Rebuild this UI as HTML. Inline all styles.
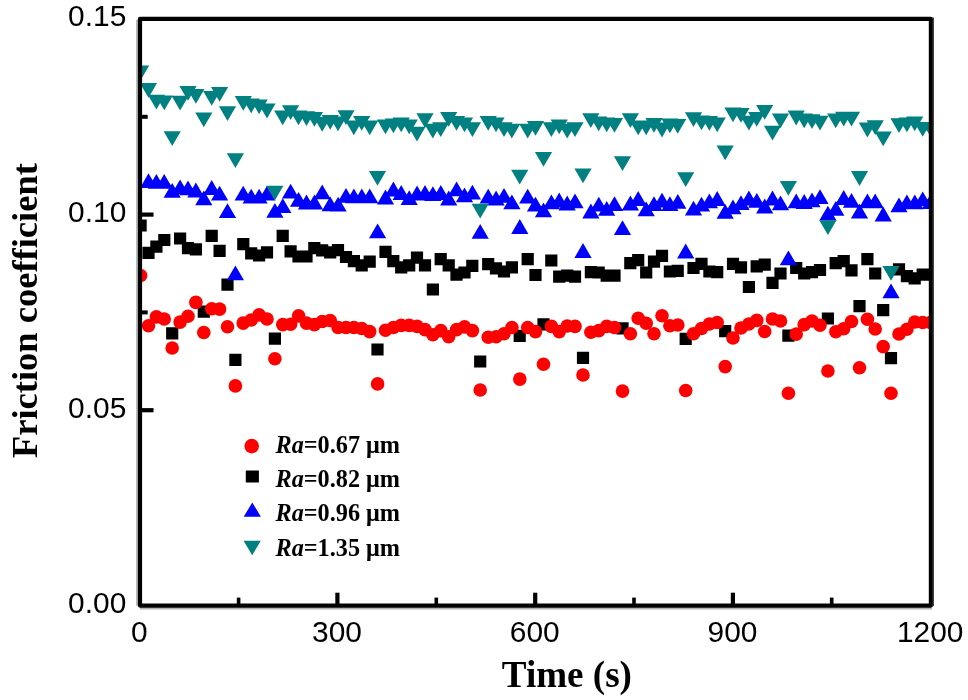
<!DOCTYPE html>
<html><head><meta charset="utf-8"><title>Friction coefficient vs time</title>
<style>
html,body{margin:0;padding:0;background:#fff;}
body{width:968px;height:700px;overflow:hidden;}
svg{display:block;filter:blur(0.45px);}
text{font-family:"Liberation Sans",sans-serif;fill:#000;}
.ser{font-family:"Liberation Serif",serif;font-weight:bold;font-variant-ligatures:none;}
</style></head>
<body>
<svg width="968" height="700" viewBox="0 0 968 700">
<rect width="968" height="700" fill="#fff"/>
<defs><clipPath id="c"><rect x="140" y="18.8" width="790.9" height="586.8"/></clipPath></defs>
<g clip-path="url(#c)">
<path fill="#000" d="M134.5 219.4h12.2v12.2h-12.2zM142.4 246.7h12.2v12.2h-12.2zM150.3 240.5h12.2v12.2h-12.2zM158.2 233.9h12.2v12.2h-12.2zM166.1 327.3h12.2v12.2h-12.2zM174 232.4h12.2v12.2h-12.2zM181.9 242.1h12.2v12.2h-12.2zM189.8 243.2h12.2v12.2h-12.2zM197.7 305.5h12.2v12.2h-12.2zM205.6 229.7h12.2v12.2h-12.2zM213.5 244.8h12.2v12.2h-12.2zM221.4 278.5h12.2v12.2h-12.2zM229.3 353.8h12.2v12.2h-12.2zM237.2 238h12.2v12.2h-12.2zM245.1 247.3h12.2v12.2h-12.2zM253 249.4h12.2v12.2h-12.2zM260.9 246.3h12.2v12.2h-12.2zM268.8 332.5h12.2v12.2h-12.2zM276.6 229.7h12.2v12.2h-12.2zM284.5 245.2h12.2v12.2h-12.2zM292.4 250.4h12.2v12.2h-12.2zM300.4 250.4h12.2v12.2h-12.2zM308.2 242.1h12.2v12.2h-12.2zM316.1 244.2h12.2v12.2h-12.2zM324.1 246.3h12.2v12.2h-12.2zM331.9 244h12.2v12.2h-12.2zM339.9 250.9h12.2v12.2h-12.2zM347.8 255h12.2v12.2h-12.2zM355.6 259.2h12.2v12.2h-12.2zM363.6 255.6h12.2v12.2h-12.2zM371.4 343.4h12.2v12.2h-12.2zM379.4 245.7h12.2v12.2h-12.2zM387.2 255h12.2v12.2h-12.2zM395.1 261.2h12.2v12.2h-12.2zM403.1 259.2h12.2v12.2h-12.2zM410.9 251.5h12.2v12.2h-12.2zM418.9 259.2h12.2v12.2h-12.2zM426.8 283.4h12.2v12.2h-12.2zM434.6 253h12.2v12.2h-12.2zM442.6 259.2h12.2v12.2h-12.2zM450.4 268.5h12.2v12.2h-12.2zM458.4 266.4h12.2v12.2h-12.2zM466.2 259.8h12.2v12.2h-12.2zM474.1 355.4h12.2v12.2h-12.2zM482.1 258.1h12.2v12.2h-12.2zM489.9 262.3h12.2v12.2h-12.2zM497.9 265.4h12.2v12.2h-12.2zM505.8 261.2h12.2v12.2h-12.2zM513.6 329.8h12.2v12.2h-12.2zM521.6 253h12.2v12.2h-12.2zM529.4 268.9h12.2v12.2h-12.2zM537.4 318.2h12.2v12.2h-12.2zM545.2 254.4h12.2v12.2h-12.2zM553.1 270.5h12.2v12.2h-12.2zM561.1 269.5h12.2v12.2h-12.2zM568.9 270.5h12.2v12.2h-12.2zM576.9 351.7h12.2v12.2h-12.2zM584.8 266h12.2v12.2h-12.2zM592.6 266.4h12.2v12.2h-12.2zM600.6 269.5h12.2v12.2h-12.2zM608.4 269.5h12.2v12.2h-12.2zM616.4 322.3h12.2v12.2h-12.2zM624.2 257.1h12.2v12.2h-12.2zM632.1 254h12.2v12.2h-12.2zM640.1 266.4h12.2v12.2h-12.2zM647.9 255.6h12.2v12.2h-12.2zM655.9 249.8h12.2v12.2h-12.2zM663.8 265.4h12.2v12.2h-12.2zM671.6 264.8h12.2v12.2h-12.2zM679.6 332.7h12.2v12.2h-12.2zM687.4 261.9h12.2v12.2h-12.2zM695.4 257.7h12.2v12.2h-12.2zM703.3 265.4h12.2v12.2h-12.2zM711.1 266h12.2v12.2h-12.2zM719.1 325h12.2v12.2h-12.2zM726.9 257.7h12.2v12.2h-12.2zM734.9 261.2h12.2v12.2h-12.2zM742.8 280.9h12.2v12.2h-12.2zM750.6 260.2h12.2v12.2h-12.2zM758.6 258.5h12.2v12.2h-12.2zM766.4 276.8h12.2v12.2h-12.2zM774.4 267.4h12.2v12.2h-12.2zM782.3 329.6h12.2v12.2h-12.2zM790.1 261.9h12.2v12.2h-12.2zM798.1 267.4h12.2v12.2h-12.2zM805.9 266h12.2v12.2h-12.2zM813.9 263.9h12.2v12.2h-12.2zM821.8 312.4h12.2v12.2h-12.2zM829.6 257.1h12.2v12.2h-12.2zM837.6 255h12.2v12.2h-12.2zM845.4 264.3h12.2v12.2h-12.2zM853.4 300h12.2v12.2h-12.2zM861.3 253h12.2v12.2h-12.2zM869.1 267.4h12.2v12.2h-12.2zM877.1 304.1h12.2v12.2h-12.2zM884.9 352h12.2v12.2h-12.2zM892.9 263.3h12.2v12.2h-12.2zM900.8 270.1h12.2v12.2h-12.2zM908.6 272.2h12.2v12.2h-12.2zM916.6 268.5h12.2v12.2h-12.2zM924.4 268.5h12.2v12.2h-12.2z"/>
<g fill="#f00"><circle cx="140.6" cy="275.5" r="6.8"/><circle cx="148.5" cy="325.8" r="6.8"/><circle cx="156.4" cy="316.9" r="6.8"/><circle cx="164.2" cy="319" r="6.8"/><circle cx="172.2" cy="348" r="6.8"/><circle cx="180.1" cy="322.1" r="6.8"/><circle cx="188" cy="316.3" r="6.8"/><circle cx="195.9" cy="302.4" r="6.8"/><circle cx="203.8" cy="332.5" r="6.8"/><circle cx="211.7" cy="308.7" r="6.8"/><circle cx="219.6" cy="309.1" r="6.8"/><circle cx="227.5" cy="326.7" r="6.8"/><circle cx="235.4" cy="385.9" r="6.8"/><circle cx="243.2" cy="323.1" r="6.8"/><circle cx="251.2" cy="320" r="6.8"/><circle cx="259.1" cy="314.9" r="6.8"/><circle cx="267" cy="319" r="6.8"/><circle cx="274.9" cy="358.8" r="6.8"/><circle cx="282.8" cy="324.6" r="6.8"/><circle cx="290.6" cy="324.2" r="6.8"/><circle cx="298.6" cy="315.9" r="6.8"/><circle cx="306.5" cy="323.1" r="6.8"/><circle cx="314.4" cy="324.6" r="6.8"/><circle cx="322.2" cy="321.5" r="6.8"/><circle cx="330.2" cy="320.5" r="6.8"/><circle cx="338.1" cy="327.5" r="6.8"/><circle cx="346" cy="327.5" r="6.8"/><circle cx="353.9" cy="327.5" r="6.8"/><circle cx="361.8" cy="328.5" r="6.8"/><circle cx="369.7" cy="331.6" r="6.8"/><circle cx="377.6" cy="383.9" r="6.8"/><circle cx="385.5" cy="330.2" r="6.8"/><circle cx="393.4" cy="327.5" r="6.8"/><circle cx="401.2" cy="325.4" r="6.8"/><circle cx="409.2" cy="325.4" r="6.8"/><circle cx="417.1" cy="326.4" r="6.8"/><circle cx="425" cy="329.6" r="6.8"/><circle cx="432.9" cy="334.7" r="6.8"/><circle cx="440.8" cy="330.6" r="6.8"/><circle cx="448.7" cy="336.8" r="6.8"/><circle cx="456.6" cy="329.6" r="6.8"/><circle cx="464.5" cy="326.9" r="6.8"/><circle cx="472.4" cy="330.6" r="6.8"/><circle cx="480.2" cy="390" r="6.8"/><circle cx="488.2" cy="337.2" r="6.8"/><circle cx="496.1" cy="336.8" r="6.8"/><circle cx="504" cy="333.7" r="6.8"/><circle cx="511.9" cy="327.5" r="6.8"/><circle cx="519.8" cy="379.1" r="6.8"/><circle cx="527.7" cy="327.5" r="6.8"/><circle cx="535.5" cy="331.6" r="6.8"/><circle cx="543.5" cy="364.2" r="6.8"/><circle cx="551.4" cy="326.4" r="6.8"/><circle cx="559.2" cy="331.6" r="6.8"/><circle cx="567.2" cy="326" r="6.8"/><circle cx="575" cy="326.4" r="6.8"/><circle cx="583" cy="375" r="6.8"/><circle cx="590.9" cy="332.2" r="6.8"/><circle cx="598.8" cy="330.6" r="6.8"/><circle cx="606.7" cy="326.4" r="6.8"/><circle cx="614.5" cy="327.5" r="6.8"/><circle cx="622.5" cy="391.1" r="6.8"/><circle cx="630.4" cy="333.7" r="6.8"/><circle cx="638.2" cy="318.2" r="6.8"/><circle cx="646.2" cy="323.3" r="6.8"/><circle cx="654" cy="333.7" r="6.8"/><circle cx="662" cy="315.7" r="6.8"/><circle cx="669.9" cy="325.8" r="6.8"/><circle cx="677.8" cy="325" r="6.8"/><circle cx="685.7" cy="390.5" r="6.8"/><circle cx="693.5" cy="333.7" r="6.8"/><circle cx="701.5" cy="328.5" r="6.8"/><circle cx="709.4" cy="324" r="6.8"/><circle cx="717.2" cy="322.5" r="6.8"/><circle cx="725.2" cy="366.6" r="6.8"/><circle cx="733" cy="338" r="6.8"/><circle cx="741" cy="328" r="6.8"/><circle cx="748.9" cy="324" r="6.8"/><circle cx="756.8" cy="320.4" r="6.8"/><circle cx="764.7" cy="331.5" r="6.8"/><circle cx="772.5" cy="319" r="6.8"/><circle cx="780.5" cy="321" r="6.8"/><circle cx="788.4" cy="393.2" r="6.8"/><circle cx="796.2" cy="334.1" r="6.8"/><circle cx="804.2" cy="324.6" r="6.8"/><circle cx="812" cy="321" r="6.8"/><circle cx="820" cy="325.2" r="6.8"/><circle cx="827.9" cy="371" r="6.8"/><circle cx="835.8" cy="331.7" r="6.8"/><circle cx="843.7" cy="328.8" r="6.8"/><circle cx="851.5" cy="321.5" r="6.8"/><circle cx="859.5" cy="367.8" r="6.8"/><circle cx="867.4" cy="319.3" r="6.8"/><circle cx="875.2" cy="329" r="6.8"/><circle cx="883.2" cy="346.6" r="6.8"/><circle cx="891" cy="393.2" r="6.8"/><circle cx="899" cy="334" r="6.8"/><circle cx="906.9" cy="329.3" r="6.8"/><circle cx="914.8" cy="322" r="6.8"/><circle cx="922.7" cy="322.5" r="6.8"/><circle cx="930.5" cy="322.5" r="6.8"/></g>
<path fill="#00f" d="M148.5 173.3l8.6 14.8h-17.2zM156.4 173.9l8.6 14.8h-17.2zM164.2 173.9l8.6 14.8h-17.2zM172.2 183l8.6 14.8h-17.2zM180.1 179.5l8.6 14.8h-17.2zM188 180.5l8.6 14.8h-17.2zM195.9 182.6l8.6 14.8h-17.2zM203.8 190.5l8.6 14.8h-17.2zM211.7 180.1l8.6 14.8h-17.2zM219.6 185.7l8.6 14.8h-17.2zM227.5 203.3l8.6 14.8h-17.2zM235.4 265.5l8.6 14.8h-17.2zM243.2 185.7l8.6 14.8h-17.2zM251.2 188.8l8.6 14.8h-17.2zM259.1 188.8l8.6 14.8h-17.2zM267 185.7l8.6 14.8h-17.2zM274.9 202.9l8.6 14.8h-17.2zM282.8 198.2l8.6 14.8h-17.2zM290.6 183.7l8.6 14.8h-17.2zM298.6 191.9l8.6 14.8h-17.2zM306.5 194.6l8.6 14.8h-17.2zM314.4 194.6l8.6 14.8h-17.2zM322.2 184.5l8.6 14.8h-17.2zM330.2 196.5l8.6 14.8h-17.2zM338.1 196.8l8.6 14.8h-17.2zM346 187.9l8.6 14.8h-17.2zM353.9 188.5l8.6 14.8h-17.2zM361.8 188.5l8.6 14.8h-17.2zM369.7 188.5l8.6 14.8h-17.2zM377.6 223.4l8.6 14.8h-17.2zM385.5 189.6l8.6 14.8h-17.2zM393.4 181.6l8.6 14.8h-17.2zM401.2 185.1l8.6 14.8h-17.2zM409.2 190.2l8.6 14.8h-17.2zM417.1 185.6l8.6 14.8h-17.2zM425 185.1l8.6 14.8h-17.2zM432.9 186.2l8.6 14.8h-17.2zM440.8 185.1l8.6 14.8h-17.2zM448.7 190.6l8.6 14.8h-17.2zM456.6 181.4l8.6 14.8h-17.2zM464.5 187.4l8.6 14.8h-17.2zM472.4 184.8l8.6 14.8h-17.2zM480.2 223.9l8.6 14.8h-17.2zM488.2 188.7l8.6 14.8h-17.2zM496.1 190.6l8.6 14.8h-17.2zM504 187.9l8.6 14.8h-17.2zM511.9 194.4l8.6 14.8h-17.2zM519.8 219.1l8.6 14.8h-17.2zM527.7 188.8l8.6 14.8h-17.2zM535.5 196.8l8.6 14.8h-17.2zM543.5 202.5l8.6 14.8h-17.2zM551.4 194.5l8.6 14.8h-17.2zM559.2 192.6l8.6 14.8h-17.2zM567.2 195.6l8.6 14.8h-17.2zM575 193.4l8.6 14.8h-17.2zM583 243.1l8.6 14.8h-17.2zM590.9 203.6l8.6 14.8h-17.2zM598.8 196.8l8.6 14.8h-17.2zM606.7 201l8.6 14.8h-17.2zM614.5 196.2l8.6 14.8h-17.2zM622.5 220.2l8.6 14.8h-17.2zM630.4 195.6l8.6 14.8h-17.2zM638.2 191.1l8.6 14.8h-17.2zM646.2 201.4l8.6 14.8h-17.2zM654 196.2l8.6 14.8h-17.2zM662 192.8l8.6 14.8h-17.2zM669.9 196.2l8.6 14.8h-17.2zM677.8 193.9l8.6 14.8h-17.2zM685.7 243.6l8.6 14.8h-17.2zM693.5 200.8l8.6 14.8h-17.2zM701.5 196.8l8.6 14.8h-17.2zM709.4 193.4l8.6 14.8h-17.2zM717.2 191.1l8.6 14.8h-17.2zM725.2 204l8.6 14.8h-17.2zM733 199.5l8.6 14.8h-17.2zM741 195.2l8.6 14.8h-17.2zM748.9 190.6l8.6 14.8h-17.2zM756.8 192.9l8.6 14.8h-17.2zM764.7 198.6l8.6 14.8h-17.2zM772.5 190.6l8.6 14.8h-17.2zM780.5 195.5l8.6 14.8h-17.2zM788.4 250.4l8.6 14.8h-17.2zM796.2 193.5l8.6 14.8h-17.2zM804.2 194.1l8.6 14.8h-17.2zM812 192.4l8.6 14.8h-17.2zM820 189.2l8.6 14.8h-17.2zM827.9 205.8l8.6 14.8h-17.2zM835.8 200.9l8.6 14.8h-17.2zM843.7 190.1l8.6 14.8h-17.2zM851.5 192.9l8.6 14.8h-17.2zM859.5 203.8l8.6 14.8h-17.2zM867.4 193.5l8.6 14.8h-17.2zM875.2 193.5l8.6 14.8h-17.2zM883.2 206.6l8.6 14.8h-17.2zM891 283.5l8.6 14.8h-17.2zM899 197.5l8.6 14.8h-17.2zM906.9 194.4l8.6 14.8h-17.2zM914.8 194.4l8.6 14.8h-17.2zM922.7 191.4l8.6 14.8h-17.2zM930.5 194.3l8.6 14.8h-17.2z"/>
<path fill="#008080" d="M132 65.4h17.2l-8.6 14.8zM139.9 83h17.2l-8.6 14.8zM147.8 94.7h17.2l-8.6 14.8zM155.7 95.4h17.2l-8.6 14.8zM163.6 131.2h17.2l-8.6 14.8zM171.5 95.8h17.2l-8.6 14.8zM179.4 86h17.2l-8.6 14.8zM187.3 89h17.2l-8.6 14.8zM195.2 112.5h17.2l-8.6 14.8zM203.1 91h17.2l-8.6 14.8zM211 87h17.2l-8.6 14.8zM218.9 106.3h17.2l-8.6 14.8zM226.8 153.3h17.2l-8.6 14.8zM234.7 96h17.2l-8.6 14.8zM242.6 98.5h17.2l-8.6 14.8zM250.5 99.5h17.2l-8.6 14.8zM258.4 103.6h17.2l-8.6 14.8zM266.2 185.8h17.2l-8.6 14.8zM274.1 110.5h17.2l-8.6 14.8zM282 105.3h17.2l-8.6 14.8zM289.9 110.5h17.2l-8.6 14.8zM297.9 111.3h17.2l-8.6 14.8zM305.8 112h17.2l-8.6 14.8zM313.6 117h17.2l-8.6 14.8zM321.6 115h17.2l-8.6 14.8zM329.4 116.4h17.2l-8.6 14.8zM337.4 110.2h17.2l-8.6 14.8zM345.2 120.5h17.2l-8.6 14.8zM353.1 116h17.2l-8.6 14.8zM361.1 120.5h17.2l-8.6 14.8zM368.9 171h17.2l-8.6 14.8zM376.9 119.5h17.2l-8.6 14.8zM384.8 118.5h17.2l-8.6 14.8zM392.6 117.4h17.2l-8.6 14.8zM400.6 119.5h17.2l-8.6 14.8zM408.4 126.8h17.2l-8.6 14.8zM416.4 113.3h17.2l-8.6 14.8zM424.2 123.7h17.2l-8.6 14.8zM432.1 122.2h17.2l-8.6 14.8zM440.1 111.9h17.2l-8.6 14.8zM447.9 116h17.2l-8.6 14.8zM455.9 117.4h17.2l-8.6 14.8zM463.8 122.2h17.2l-8.6 14.8zM471.6 203.8h17.2l-8.6 14.8zM479.6 116h17.2l-8.6 14.8zM487.4 117.4h17.2l-8.6 14.8zM495.4 122.2h17.2l-8.6 14.8zM503.2 123.7h17.2l-8.6 14.8zM511.1 169.8h17.2l-8.6 14.8zM519.1 123.7h17.2l-8.6 14.8zM526.9 121h17.2l-8.6 14.8zM534.9 152h17.2l-8.6 14.8zM542.8 122.2h17.2l-8.6 14.8zM550.6 119.5h17.2l-8.6 14.8zM558.6 123.7h17.2l-8.6 14.8zM566.4 122.2h17.2l-8.6 14.8zM574.4 168.4h17.2l-8.6 14.8zM582.2 113.3h17.2l-8.6 14.8zM590.1 116.4h17.2l-8.6 14.8zM598.1 117.4h17.2l-8.6 14.8zM605.9 117.9h17.2l-8.6 14.8zM613.9 156.2h17.2l-8.6 14.8zM621.8 113.3h17.2l-8.6 14.8zM629.6 120.5h17.2l-8.6 14.8zM637.6 120.5h17.2l-8.6 14.8zM645.4 117.9h17.2l-8.6 14.8zM653.4 122.6h17.2l-8.6 14.8zM661.3 118.5h17.2l-8.6 14.8zM669.1 118.9h17.2l-8.6 14.8zM677.1 172.2h17.2l-8.6 14.8zM684.9 112.3h17.2l-8.6 14.8zM692.9 115.4h17.2l-8.6 14.8zM700.8 116h17.2l-8.6 14.8zM708.6 117.4h17.2l-8.6 14.8zM716.6 145.4h17.2l-8.6 14.8zM724.4 107.5h17.2l-8.6 14.8zM732.4 108h17.2l-8.6 14.8zM740.3 115.7h17.2l-8.6 14.8zM748.1 112h17.2l-8.6 14.8zM756.1 104.9h17.2l-8.6 14.8zM763.9 125.7h17.2l-8.6 14.8zM771.9 113.4h17.2l-8.6 14.8zM779.8 180.9h17.2l-8.6 14.8zM787.6 110.6h17.2l-8.6 14.8zM795.6 113.4h17.2l-8.6 14.8zM803.4 114.2h17.2l-8.6 14.8zM811.4 115.7h17.2l-8.6 14.8zM819.3 220.3h17.2l-8.6 14.8zM827.1 113.4h17.2l-8.6 14.8zM835.1 111.7h17.2l-8.6 14.8zM842.9 111.7h17.2l-8.6 14.8zM850.9 171.1h17.2l-8.6 14.8zM858.8 122.6h17.2l-8.6 14.8zM866.6 120.3h17.2l-8.6 14.8zM874.6 131.4h17.2l-8.6 14.8zM882.4 266h17.2l-8.6 14.8zM890.4 118.3h17.2l-8.6 14.8zM898.3 117.4h17.2l-8.6 14.8zM906.1 116.5h17.2l-8.6 14.8zM914.1 122h17.2l-8.6 14.8zM921.9 122h17.2l-8.6 14.8z"/>
</g>
<g fill="#000">
<rect x="140" y="408.1" width="13.5" height="4.2"/>
<rect x="140" y="212.5" width="13.5" height="4.2"/>
<rect x="140" y="310.4" width="7.7" height="4"/>
<rect x="140" y="114.8" width="7.7" height="4"/>
<rect x="335.3" y="592.7" width="4.2" height="12.8"/>
<rect x="533.1" y="592.7" width="4.2" height="12.8"/>
<rect x="730.8" y="592.7" width="4.2" height="12.8"/>
<rect x="236.8" y="597.6" width="3.6" height="7.9"/>
<rect x="434.5" y="597.6" width="3.6" height="7.9"/>
<rect x="632.2" y="597.6" width="3.6" height="7.9"/>
<rect x="829.9" y="597.6" width="3.6" height="7.9"/>
</g>
<rect x="136.1" y="19.7" width="2" height="586" fill="#b4b4b4"/>
<rect x="139.9" y="607.4" width="792" height="2.1" fill="#b4b4b4"/>
<rect x="140" y="18.8" width="790.9" height="586.8" fill="none" stroke="#000" stroke-width="4.2" stroke-linejoin="round"/>
<rect x="932.6" y="17.6" width="1.4" height="588.4" fill="#444"/>
<g font-size="29.9"><text x="126.3" y="613.1" text-anchor="end">0.00</text><text x="126.3" y="417.5" text-anchor="end">0.05</text><text x="126.3" y="221.9" text-anchor="end">0.10</text><text x="126.3" y="26.4" text-anchor="end">0.15</text><text x="139.3" y="641.6" text-anchor="middle">0</text><text x="337" y="641.6" text-anchor="middle">300</text><text x="534.8" y="641.6" text-anchor="middle">600</text><text x="732.5" y="641.6" text-anchor="middle">900</text><text x="930.2" y="641.6" text-anchor="middle">1200</text></g>
<text class="ser" font-size="37.1" x="566.9" y="686.9" text-anchor="middle">Time (s)</text>
<text class="ser" font-size="36.5" text-anchor="middle" transform="translate(36.6 310.6) rotate(-90)">Friction coefficient</text>
<g font-size="25">
<circle cx="251.7" cy="446.1" r="7.3" fill="#f00"/>
<rect x="245.8" y="470.5" width="13.1" height="12" fill="#000"/>
<path d="M252.3 502.4l8.6 14.4h-17.2z" fill="#00f"/>
<path d="M243.6 540.8h17.2l-8.6 14.4z" fill="#008080"/>
<text class="ser" x="275.5" y="452.6" textLength="124.5" lengthAdjust="spacingAndGlyphs"><tspan font-style="italic">Ra</tspan>=0.67 μm</text>
<text class="ser" x="275.5" y="487" textLength="124.5" lengthAdjust="spacingAndGlyphs"><tspan font-style="italic">Ra</tspan>=0.82 μm</text>
<text class="ser" x="275.5" y="521.3" textLength="124.5" lengthAdjust="spacingAndGlyphs"><tspan font-style="italic">Ra</tspan>=0.96 μm</text>
<text class="ser" x="275.5" y="555.7" textLength="124.5" lengthAdjust="spacingAndGlyphs"><tspan font-style="italic">Ra</tspan>=1.35 μm</text>
</g>
</svg>
</body></html>
